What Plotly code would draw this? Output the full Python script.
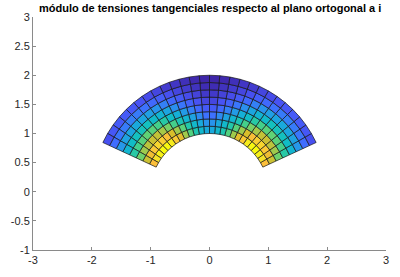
import numpy as np
import plotly.graph_objects as go
from plotly.colors import sample_colorscale

# --- data ---------------------------------------------------------------
title_text = "módulo de tensiones tangenciales respecto al plano ortogonal a i"
x_ticks = [-3, -2, -1, 0, 1, 2, 3]
y_ticks = [-1, -0.5, 0, 0.5, 1, 1.5, 2, 2.5, 3]

r_inner, r_outer = 1.0, 2.0
theta_start, theta_end = 25.0, 155.0   # degrees
n_radial, n_angular = 8, 26

# cell values, rows = radial layers (inner -> outer), columns = angle (right -> left)
tension = [
    [0.86, 0.92, 0.97, 1.00, 0.99, 0.95, 0.88, 0.80, 0.70, 0.60, 0.51, 0.43, 0.37,
     0.37, 0.43, 0.51, 0.60, 0.70, 0.80, 0.88, 0.95, 0.99, 1.00, 0.97, 0.92, 0.86],
    [0.76, 0.83, 0.88, 0.90, 0.89, 0.85, 0.78, 0.70, 0.61, 0.52, 0.44, 0.37, 0.31,
     0.31, 0.37, 0.44, 0.52, 0.61, 0.70, 0.78, 0.85, 0.89, 0.90, 0.88, 0.83, 0.76],
    [0.64, 0.70, 0.74, 0.76, 0.75, 0.71, 0.65, 0.58, 0.50, 0.42, 0.35, 0.29, 0.24,
     0.24, 0.29, 0.35, 0.42, 0.50, 0.58, 0.65, 0.71, 0.75, 0.76, 0.74, 0.70, 0.64],
    [0.53, 0.58, 0.61, 0.62, 0.61, 0.58, 0.53, 0.46, 0.39, 0.33, 0.27, 0.22, 0.18,
     0.18, 0.22, 0.27, 0.33, 0.39, 0.46, 0.53, 0.58, 0.61, 0.62, 0.61, 0.58, 0.53],
    [0.42, 0.46, 0.48, 0.49, 0.48, 0.45, 0.41, 0.36, 0.30, 0.25, 0.20, 0.16, 0.12,
     0.12, 0.16, 0.20, 0.25, 0.30, 0.36, 0.41, 0.45, 0.48, 0.49, 0.48, 0.46, 0.42],
    [0.32, 0.35, 0.36, 0.37, 0.36, 0.34, 0.31, 0.27, 0.22, 0.18, 0.14, 0.11, 0.08,
     0.08, 0.11, 0.14, 0.18, 0.22, 0.27, 0.31, 0.34, 0.36, 0.37, 0.36, 0.35, 0.32],
    [0.23, 0.25, 0.26, 0.27, 0.26, 0.24, 0.22, 0.19, 0.15, 0.12, 0.09, 0.06, 0.04,
     0.04, 0.06, 0.09, 0.12, 0.15, 0.19, 0.22, 0.24, 0.26, 0.27, 0.26, 0.25, 0.23],
    [0.15, 0.17, 0.18, 0.18, 0.17, 0.16, 0.14, 0.12, 0.09, 0.07, 0.05, 0.03, 0.02,
     0.02, 0.03, 0.05, 0.07, 0.09, 0.12, 0.14, 0.16, 0.17, 0.18, 0.18, 0.17, 0.15],
]

# MATLAB parula approximation
parula = [
    [0.00, "rgb(62,38,168)"],
    [0.14, "rgb(72,82,244)"],
    [0.22, "rgb(62,111,255)"],
    [0.30, "rgb(39,150,235)"],
    [0.38, "rgb(20,176,214)"],
    [0.46, "rgb(16,190,196)"],
    [0.54, "rgb(47,204,155)"],
    [0.62, "rgb(101,211,113)"],
    [0.70, "rgb(164,201,74)"],
    [0.78, "rgb(220,189,41)"],
    [0.86, "rgb(253,191,59)"],
    [0.92, "rgb(245,226,39)"],
    [1.00, "rgb(249,251,14)"],
]

# --- figure -------------------------------------------------------------
vals = np.array(tension)
vmin, vmax = vals.min(), vals.max()
r_edges = np.linspace(r_inner, r_outer, n_radial + 1)
t_edges = np.radians(np.linspace(theta_start, theta_end, n_angular + 1))

fig = go.Figure()
for i in range(n_radial):
    for j in range(n_angular):
        t_arc = np.linspace(t_edges[j], t_edges[j + 1], 5)
        ra, rb = r_edges[i], r_edges[i + 1]
        xs = np.concatenate([ra * np.cos(t_arc), rb * np.cos(t_arc[::-1]), [ra * np.cos(t_arc[0])]])
        ys = np.concatenate([ra * np.sin(t_arc), rb * np.sin(t_arc[::-1]), [ra * np.sin(t_arc[0])]])
        c = sample_colorscale(parula, [(vals[i, j] - vmin) / (vmax - vmin)])[0]
        fig.add_trace(go.Scatter(
            x=xs, y=ys, mode="lines", fill="toself", fillcolor=c,
            line=dict(color="#151515", width=0.7), hoverinfo="skip", showlegend=False,
        ))

axis_common = dict(
    showgrid=False, zeroline=False, showline=True, linecolor="#8a8a8a", linewidth=1,
    ticks="inside", ticklen=3, tickcolor="#8a8a8a", mirror=False,
    tickfont=dict(family="Liberation Sans, Arial", size=11, color="#262626"),
)
fig.update_xaxes(range=[-3, 3], tickvals=x_ticks, ticktext=[str(v) for v in x_ticks], **axis_common)
fig.update_yaxes(range=[-1, 3], tickvals=y_ticks, ticktext=[f"{v:g}" for v in y_ticks], **axis_common)

fig.add_annotation(
    text=f"<b>{title_text}</b>", xref="paper", yref="paper", x=0.5, y=1.0,
    xanchor="center", yanchor="bottom", yshift=2, borderpad=0, showarrow=False,
    font=dict(family="Liberation Sans, Arial", size=11, color="#000000"),
)

fig.update_layout(
    width=400, height=277, margin=dict(l=25, r=11, t=17, b=18),
    paper_bgcolor="white", plot_bgcolor="white",
)
fig.write_html("out.html")
